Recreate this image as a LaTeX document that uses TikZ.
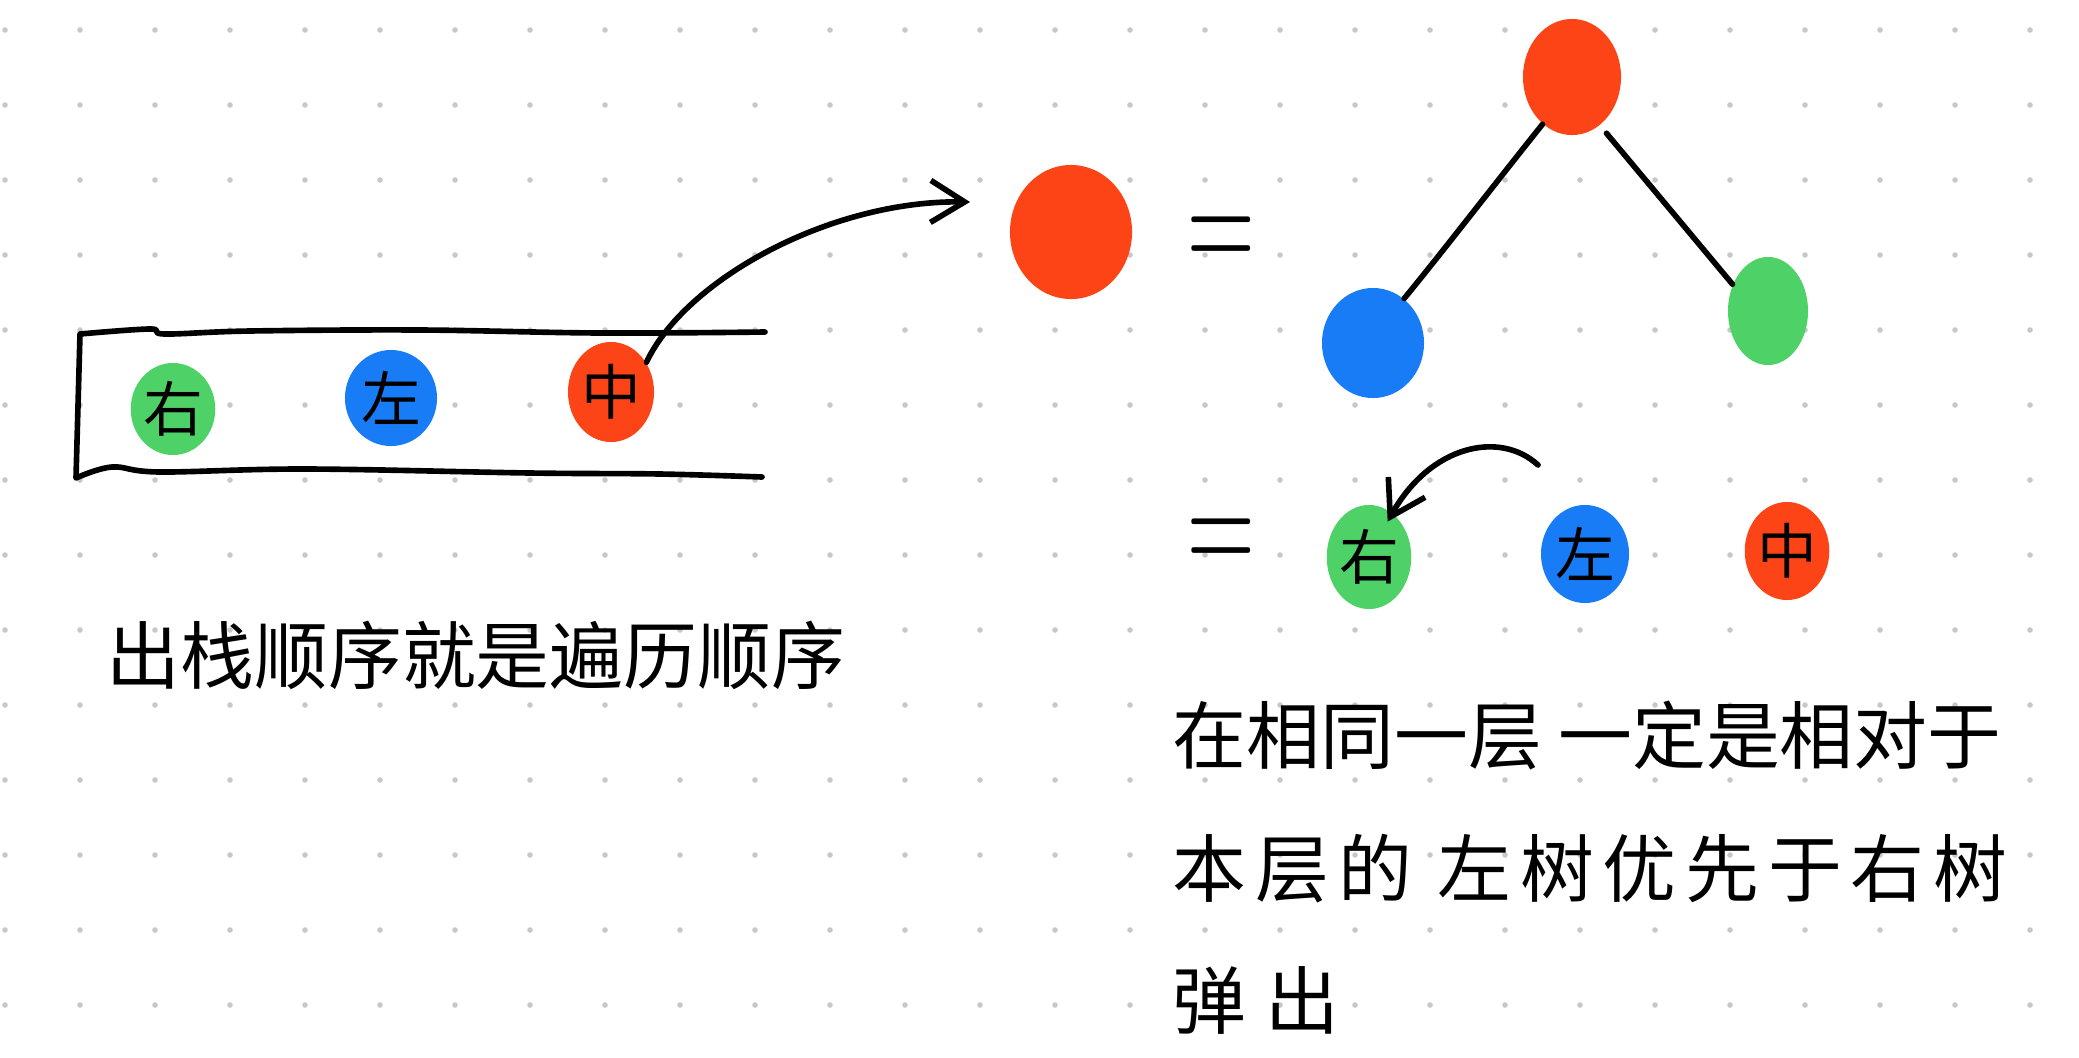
\documentclass[tikz,border=0pt]{standalone}
\usepackage{fontspec}
\newfontfamily\cjk{Noto Sans CJK SC}
\usetikzlibrary{arrows.meta,shapes.geometric}
\definecolor{BallRed}{RGB}{252,68,22}
\definecolor{BallBlue}{RGB}{24,124,246}
\definecolor{BallGreen}{RGB}{78,210,104}
\definecolor{GridDot}{RGB}{200,200,200}

\begin{document}
\begin{tikzpicture}[
    x=0.01cm, y=-0.01cm,
    pen/.style={line width=1.6pt, line cap=round, line join=round},
    arr/.style={pen, -{Straight Barb[length=3.4mm, width=4.2mm]}},
    ball/.style={ellipse, inner sep=0pt, font=\cjk\fontsize{17}{17}\selectfont},
    eqsign/.style={font=\fontsize{46}{46}\selectfont, xscale=0.58, transform shape},
    note/.style={anchor=base west, inner sep=0pt, font=\cjk\fontsize{21}{21}\selectfont}
  ]
  \fill[white] (0,0) rectangle (2079,1057);
  \useasboundingbox (0,0) rectangle (2079,1057);

  % dotted paper
  \foreach \i in {0,...,27}
    \foreach \j in {0,...,13}
      \fill[GridDot] (5+75*\i, 30+75*\j) circle (0.028cm);

  % the stack
  \draw[pen] plot[smooth, tension=0.6] coordinates {(765,332) (600,333) (420,330) (250,331) (165,334) (150,329) (80,334)}
    -- plot[smooth, tension=0.6] coordinates {(76,478) (112,467) (160,472) (306,469) (530,473) (660,474) (762,477)};
  \node[ball, fill=BallGreen, minimum width=0.76cm, minimum height=0.92cm] (stackR) at (173,409) {右};
  \node[ball, fill=BallBlue,  minimum width=0.92cm, minimum height=0.96cm] (stackL) at (391,398) {左};
  \node[ball, fill=BallRed,   minimum width=0.86cm, minimum height=1.00cm] (stackM) at (611,392) {中};

  \node[ball, fill=BallRed, minimum width=1.22cm, minimum height=1.34cm] (popped) at (1071,232) {};
  \coordinate (pushTip) at (970,202);
  \draw[arr] (stackM.40) .. controls (685,280) and (830,200) .. (pushTip);

  % popped node as a subtree
  \node[eqsign] (eqTree) at (1221,246) {=};
  \node[ball, fill=BallRed,   minimum width=0.98cm, minimum height=1.16cm] (treeM) at (1572,77) {};
  \node[ball, fill=BallBlue,  minimum width=1.02cm, minimum height=1.10cm] (treeL) at (1373,343) {};
  \node[ball, fill=BallGreen, minimum width=0.80cm, minimum height=1.08cm] (treeR) at (1768,311) {};
  \draw[pen] (treeM.238) .. controls (1490,190) and (1440,255) .. (treeL.55);
  \draw[pen, shorten <=0.1cm] (treeM.300) -- (treeR.143);

  % order on the stack
  \node[eqsign] (eqOrder) at (1221,548) {=};
  \node[ball, fill=BallGreen, minimum width=0.82cm, minimum height=1.04cm] (orderR) at (1369,557) {右};
  \node[ball, fill=BallBlue,  minimum width=0.88cm, minimum height=0.98cm] (orderL) at (1585,554) {左};
  \node[ball, fill=BallRed,   minimum width=0.84cm, minimum height=0.98cm] (orderM) at (1787,551) {中};
  \coordinate (popFrom) at (1538,465);
  \draw[arr, shorten >=-0.1cm] (popFrom) .. controls (1500,430) and (1430,445) .. (orderR.62);

  % notes
  \node[note] (caption) at (106,683) {出栈顺序就是遍历顺序};
  \node[note] (rule1) at (1172,763) {在相同一层 一定是相对于};
  \node[note] (rule2) at (1172,896) {\addfontfeature{LetterSpace=12}本层的 左树优先于右树};
  \node[note] (rule3) at (1172,1028) {\addfontfeature{LetterSpace=25}弹出};
\end{tikzpicture}
\end{document}
